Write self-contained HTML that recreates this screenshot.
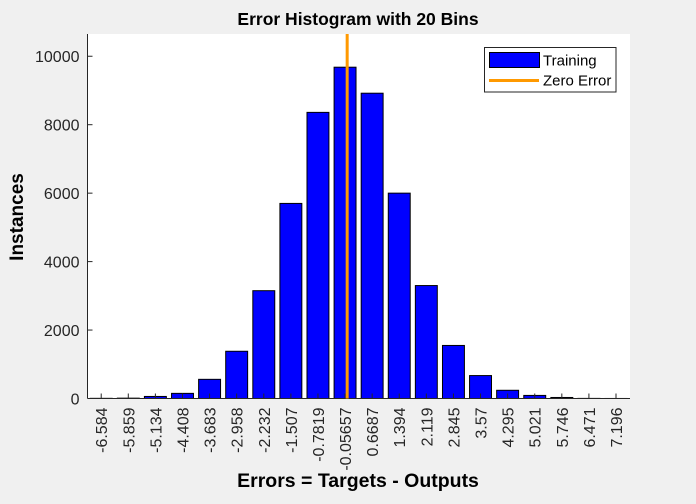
<!DOCTYPE html>
<html><head><meta charset="utf-8"><style>
html,body{margin:0;padding:0;background:#f0f0f0;}
svg{display:block;font-family:"Liberation Sans",Arial,sans-serif;}
</style></head><body>
<svg id="chart" width="696" height="504" viewBox="0 0 696 504">
<rect x="0" y="0" width="696" height="504" fill="#f0f0f0"/>
<rect x="87.5" y="34" width="542.5" height="364.5" fill="#ffffff"/>
<g id="bars"></g>
<g id="xticks"></g>
<g id="yticks"></g>
<line x1="87.5" y1="398.5" x2="630" y2="398.5" stroke="#262626" stroke-width="1"/>
<line x1="87.5" y1="34" x2="87.5" y2="398.5" stroke="#262626" stroke-width="1"/>
<line id="zeroLine" y1="34" y2="398.5" stroke="#ff9900" stroke-width="3"/>
<text x="358" y="25" font-size="17.5" font-weight="bold" text-anchor="middle" fill="#000">Error Histogram with 20 Bins</text>
<text x="358" y="487" font-size="19.5" font-weight="bold" text-anchor="middle" fill="#000">Errors = Targets - Outputs</text>
<text transform="translate(23,217) rotate(-90)" font-size="19" font-weight="bold" text-anchor="middle" fill="#000">Instances</text>
<g>
<rect x="484.5" y="47.5" width="131.5" height="44.5" fill="#fff" stroke="#262626" stroke-width="1"/>
<rect x="489.5" y="52.5" width="50" height="15" fill="#0000ff" stroke="#000" stroke-width="1"/>
<text x="543" y="65.5" font-size="15" fill="#000">Training</text>
<line x1="489" y1="80.5" x2="539" y2="80.5" stroke="#ff9900" stroke-width="3"/>
<text x="543" y="85.5" font-size="15" fill="#000">Zero Error</text>
</g>
</svg>
<script>
const binCenters = [-6.584,-5.859,-5.134,-4.408,-3.683,-2.958,-2.232,-1.507,-0.7819,-0.05657,0.6687,1.394,2.119,2.845,3.57,4.295,5.021,5.746,6.471,7.196];
const binLabels = ["-6.584","-5.859","-5.134","-4.408","-3.683","-2.958","-2.232","-1.507","-0.7819","-0.05657","0.6687","1.394","2.119","2.845","3.57","4.295","5.021","5.746","6.471","7.196"];
const counts = [5,10,60,150,560,1380,3150,5700,8360,9680,8920,6000,3300,1550,670,240,90,30,3,1];
const yTicks = [0,2000,4000,6000,8000,10000];
const zeroError = 0;
const xMin=-6.951, xMax=7.571, yMin=0, yMax=10650;
const L=87.5,R=630,T=34,B=398.5;
const NS="http://www.w3.org/2000/svg";
function xs(v){return L+(v-xMin)/(xMax-xMin)*(R-L);}
function ys(v){return B-(v-yMin)/(yMax-yMin)*(B-T);}
const binW=(binCenters[1]-binCenters[0])*0.81;
const bars=document.getElementById('bars');
counts.forEach((c,i)=>{
  const r=document.createElementNS(NS,'rect');
  const x0=xs(binCenters[i]-binW/2), x1=xs(binCenters[i]+binW/2);
  r.setAttribute('x',x0);r.setAttribute('width',x1-x0);
  r.setAttribute('y',ys(c));r.setAttribute('height',B-ys(c));
  r.setAttribute('fill','#0000ff');r.setAttribute('stroke','#000');r.setAttribute('stroke-width','1');
  
  
  bars.appendChild(r);
});
const xt=document.getElementById('xticks');
binCenters.forEach((v,i)=>{
  const x=xs(v);
  const l=document.createElementNS(NS,'line');
  l.setAttribute('x1',x);l.setAttribute('x2',x);l.setAttribute('y1',B);l.setAttribute('y2',B-5);
  l.setAttribute('stroke','#262626');
  
  
  xt.appendChild(l);
  const t=document.createElementNS(NS,'text');
  t.setAttribute('transform','translate('+(x+6)+','+(B+9)+') rotate(-90)');
  t.setAttribute('text-anchor','end');t.setAttribute('font-size','16');t.setAttribute('fill','#262626');
  t.textContent=binLabels[i];
  
  
  xt.appendChild(t);
});
const yt=document.getElementById('yticks');
yTicks.forEach(v=>{
  const y=ys(v);
  const l=document.createElementNS(NS,'line');
  l.setAttribute('x1',L);l.setAttribute('x2',L+5);l.setAttribute('y1',y);l.setAttribute('y2',y);
  l.setAttribute('stroke','#262626');
  
  
  yt.appendChild(l);
  const t=document.createElementNS(NS,'text');
  t.setAttribute('x',L-8);t.setAttribute('y',y+6);
  t.setAttribute('text-anchor','end');t.setAttribute('font-size','16');t.setAttribute('fill','#262626');
  t.textContent=String(v);
  
  
  yt.appendChild(t);
});
const zl=document.getElementById('zeroLine');
zl.setAttribute('x1',xs(zeroError));zl.setAttribute('x2',xs(zeroError));
</script>
</body></html>
